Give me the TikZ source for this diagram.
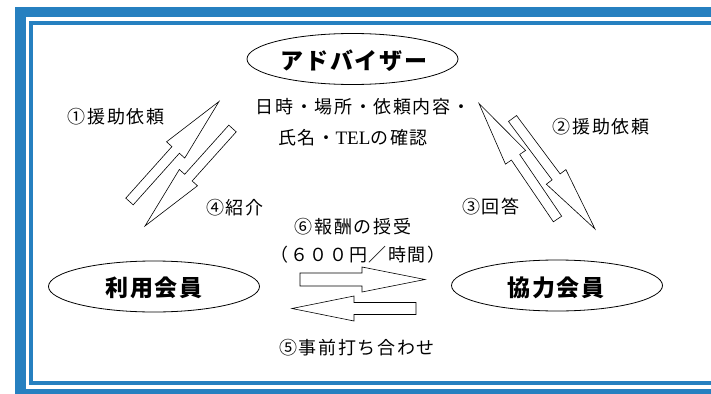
\documentclass[tikz,border=0pt]{standalone}
\usepackage{fontspec}
\usetikzlibrary{calc,shapes.geometric}
\newfontfamily\jp{Noto Sans CJK JP}[LetterSpace=9]
\newfontfamily\jpt{Noto Sans CJK JP}[LetterSpace=8]
\newfontfamily\serifl{Liberation Serif}
\definecolor{frameblue}{RGB}{38,128,192}
\newcommand\blkarrow[5]{%
  \coordinate (hb) at ($(#2)!#5!(#1)$);
  \draw[arrowbox] ($(#1)!#3!90:(#2)$) -- ($(hb)!#3!-90:(#1)$) -- ($(hb)!#4!-90:(#1)$) -- (#2)
    -- ($(hb)!#4!90:(#1)$) -- ($(hb)!#3!90:(#1)$) -- ($(#1)!#3!-90:(#2)$) -- cycle;}
\begin{document}
\begin{tikzpicture}[x=1pt,y=-1pt,
  member/.style={draw=black,line width=0.8pt,ellipse,minimum width=211pt,minimum height=51pt,inner sep=0pt},
  bigtext/.style={inner sep=0pt,font=\jpt\bfseries\fontsize{23}{23}\selectfont},
  lbl/.style={inner sep=0pt,font=\jp\fontsize{18}{18}\selectfont},
  arrowbox/.style={draw=black,fill=white,line width=0.6pt,line join=miter}]
\useasboundingbox (0,0) rectangle (711,393);
\fill[white] (0,0) rectangle (711,393);
\begin{scope}
\clip (0,0) rectangle (711,393);
\draw[frameblue,line width=10.5pt] (20.5,12) rectangle (722,394.5);
\draw[frameblue,line width=4pt] (31,23) rectangle (713,383);
\end{scope}
% ellipses
\node[member] (adv) at (352.5,59) {};
\node[member] (user) at (154,286.5) {};
\node[member] (coop) at (557,285.5) {};
\node[bigtext] (advt) at (354,61) {アドバイザー};
\node[bigtext] (usert) at (154,288) {利用会員};
\node[bigtext] (coopt) at (556,288) {協力会員};
% labels
\node[lbl] (info1) at (363,107) {日時・場所・依頼内容・};
\node[lbl] (info2) at (353,138) {氏名・{\serifl\fontsize{19}{19}\selectfont TEL}の確認};
\node[lbl] (l1) at (116,117) {①援助依頼};
\node[lbl] (l2) at (601,127) {②援助依頼};
\node[lbl] (l4) at (235,208) {④紹介};
\node[lbl] (l3) at (491,207) {③回答};
\node[lbl] (l6) at (353,227) {⑥報酬の授受};
\node[lbl] (l6b) at (358,255) {（６００円／時間）};
\node[lbl] (l5) at (357,348) {⑤事前打ち合わせ};
% arrow end points
\coordinate (t1) at (129.5,201.5); \coordinate (h1) at (219,101.5);
\coordinate (t4) at (232.5,128.5); \coordinate (h4) at (145,226);
\coordinate (t3) at (557.5,219);   \coordinate (h3) at (479,103.5);
\coordinate (t2) at (512.5,118.5); \coordinate (h2) at (595,229);
\coordinate (t6) at (300,279.5);   \coordinate (h6) at (425,279.5);
\coordinate (t5) at (416,308.5);   \coordinate (h5) at (292,308.5);
\blkarrow{t1}{h1}{5pt}{12.2pt}{65pt}
\blkarrow{t4}{h4}{5pt}{12.2pt}{65pt}
\blkarrow{t3}{h3}{5pt}{12.2pt}{65pt}
\blkarrow{t2}{h2}{5pt}{12.2pt}{65pt}
\blkarrow{t6}{h6}{6.5pt}{12.5pt}{63pt}
\blkarrow{t5}{h5}{6pt}{12.5pt}{62pt}
\end{tikzpicture}
\end{document}
